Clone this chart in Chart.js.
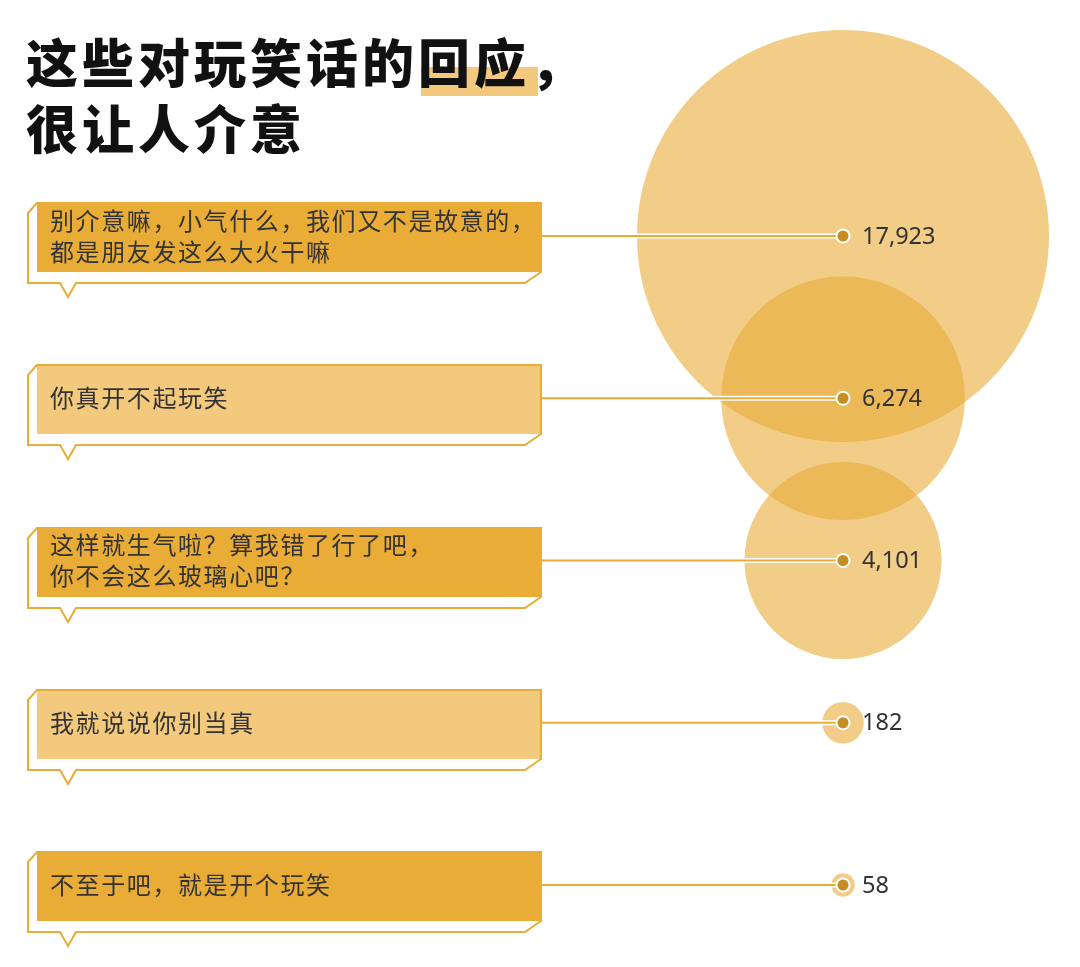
<!DOCTYPE html>
<html lang="zh">
<head>
<meta charset="utf-8">
<title>这些对玩笑话的回应，很让人介意</title>
<script src="https://cdn.jsdelivr.net/npm/chart.js@4.4.1/dist/chart.umd.min.js"></script>
<style>
  html, body { margin: 0; padding: 0; background: #fff; }
  #wrap { position: relative; width: 1080px; height: 967px; overflow: hidden; }
  #chartBox { position: absolute; left: 0; top: 0; width: 1080px; height: 967px; }
  .marker { position: absolute; left: 421px; top: 67px; width: 117px; height: 29px; background: #F3C97D; }
  h1 {
    position: absolute; left: 26px; top: 28px; margin: 0;
    font-family: "Noto Sans CJK SC", sans-serif; font-weight: 900;
    font-size: 52px; line-height: 66px; letter-spacing: 4px; color: #111;
  }
</style>
</head>
<body>
<div id="wrap">
  <div class="marker"></div>
  <h1>这些对玩笑话的回应，<br>很让人介意</h1>
  <div id="chartBox"><canvas id="bubbleChart"></canvas></div>
</div>
<script>
// --- data ---
const responses = [
    ['别介意嘛，小气什么，我们又不是故意的，', '都是朋友发这么大火干嘛'],
    ['你真开不起玩笑'],
    ['这样就生气啦？算我错了行了吧，', '你不会这么玻璃心吧？'],
    ['我就说说你别当真'],
    ['不至于吧，就是开个玩笑']
];
const counts = [17923, 6274, 4101, 182, 58];

// --- styling ---
const GOLD = '#E8AC37';
const GOLD_LIGHT = '#F3C97D';
const DOT = '#C48E22';
const TEXT = '#333333';
const MAX_RADIUS = 206;          // pixel radius of the largest bubble
const ROW_STEP = 162.25;         // pixel distance between rows
const FIRST_ROW = 236;           // pixel y of the first row
const BUBBLE_X = 843;            // pixel x of bubble column

const maxCount = Math.max(...counts);
const bubbleData = counts.map((v, i) => ({
    x: 0,
    y: i,
    r: MAX_RADIUS * Math.sqrt(v / maxCount)   // area proportional to value
}));

/**
 * Speech-bubble labels, connectors, centre dots and value labels
 */
const speechBoxes = {
    id: 'speechBoxes',
    afterDatasetsDraw(chart) {
        const ctx = chart.ctx;
        const meta = chart.getDatasetMeta(0);

        meta.data.forEach((pt, i) => {
            const y = pt.y;
            const top = Math.round(y) - 33;
            const bottom = Math.round(y) + 36;
            const left = 37, right = 541;

            ctx.save();

            // box fill
            ctx.fillStyle = i % 2 === 0 ? GOLD : GOLD_LIGHT;
            ctx.fillRect(left, top, right - left, bottom - top);

            // box outline with tail
            ctx.strokeStyle = GOLD;
            ctx.lineWidth = 2;
            ctx.lineJoin = 'miter';
            ctx.beginPath();
            ctx.moveTo(28, top + 10);
            ctx.lineTo(left, top);
            ctx.lineTo(right, top);
            ctx.lineTo(right, bottom);
            ctx.lineTo(525, bottom + 11);
            ctx.lineTo(76, bottom + 11);
            ctx.lineTo(68, bottom + 25);
            ctx.lineTo(60, bottom + 11);
            ctx.lineTo(28, bottom + 11);
            ctx.closePath();
            ctx.stroke();

            // box text
            ctx.fillStyle = TEXT;
            ctx.font = '400 24px "Noto Sans CJK SC"';
            ctx.letterSpacing = '1.6px';
            ctx.textAlign = 'left';
            ctx.textBaseline = 'middle';
            const lines = responses[i];
            const lh = 31;
            const y0 = y - (lines.length - 1) * lh / 2;
            lines.forEach((t, k) => ctx.fillText(t, 50, y0 + k * lh));
            ctx.letterSpacing = '0px';

            // connector
            ctx.lineCap = 'butt';
            ctx.strokeStyle = '#ffffff';
            ctx.lineWidth = 5;
            ctx.beginPath();
            ctx.moveTo(right + 1, y);
            ctx.lineTo(pt.x, y);
            ctx.stroke();
            ctx.strokeStyle = GOLD;
            ctx.lineWidth = 2;
            ctx.beginPath();
            ctx.moveTo(right + 1, y);
            ctx.lineTo(pt.x, y);
            ctx.stroke();

            // centre dot
            ctx.fillStyle = '#ffffff';
            ctx.beginPath();
            ctx.arc(pt.x, y, 7.5, 0, Math.PI * 2);
            ctx.fill();
            ctx.fillStyle = DOT;
            ctx.beginPath();
            ctx.arc(pt.x, y, 5.5, 0, Math.PI * 2);
            ctx.fill();

            // value label
            ctx.fillStyle = TEXT;
            ctx.font = '400 23.5px "Noto Sans"';
            ctx.fillText(counts[i].toLocaleString('en-US'), pt.x + 19, y + 1);

            ctx.restore();
        });
    }
};

const W = 1080, H = 967;
const yMin = -FIRST_ROW / ROW_STEP;

new Chart(document.getElementById('bubbleChart'), {
    type: 'bubble',
    data: {
        datasets: [{
            data: bubbleData,
            backgroundColor: 'rgba(232,172,55,0.6)',
            borderWidth: 0,
            hoverRadius: 0,
            clip: false
        }]
    },
    options: {
        responsive: true,
        maintainAspectRatio: false,
        animation: false,
        events: [],
        layout: { padding: 0, autoPadding: false },
        plugins: {
            legend: { display: false },
            tooltip: { enabled: false }
        },
        scales: {
            x: { type: 'linear', display: false, min: -BUBBLE_X, max: W - BUBBLE_X },
            y: { type: 'linear', display: false, reverse: true, min: yMin, max: yMin + H / ROW_STEP }
        }
    },
    plugins: [speechBoxes]
});
</script>
</body>
</html>
